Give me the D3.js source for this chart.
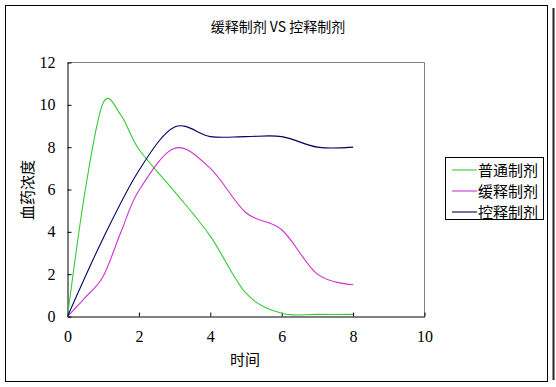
<!DOCTYPE html>
<html>
<head>
<meta charset="utf-8">
<script src="https://cdn.jsdelivr.net/npm/d3@7"></script>
<style>
  body { margin: 0; background: #fff; }
  text { font-family: "Noto Sans CJK SC", "DejaVu Sans", sans-serif; fill: #000; }
</style>
</head>
<body>
<div id="chart"></div>
<script>
// Time points and concentrations for each formulation
const normalT = [0, 0.5, 1, 1.5, 2, 3, 4, 5, 6, 7, 8];
const normalV = [0, 6.0, 10.1, 9.5, 7.9, 5.9, 3.8, 1.1, 0.15, 0.1, 0.1];

const sustainedT = [0, 0.5, 1, 1.5, 2, 3, 4, 5, 6, 7, 8];
const sustainedV = [0, 0.9, 1.9, 4.0, 5.95, 7.95, 7.0, 4.9, 4.1, 2.0, 1.5];

const controlledT = [0, 1, 2, 3, 4, 5, 6, 7, 8];
const controlledV = [0, 3.7, 6.9, 8.95, 8.5, 8.5, 8.5, 8.0, 8.0];

const seriesNames = ['普通制剂', '缓释制剂', '控释制剂'];
const seriesColors = ['#33cc33', '#cc33cc', '#000066'];
const xTicks = [0, 2, 4, 6, 8, 10];
const yTicks = [0, 2, 4, 6, 8, 10, 12];

const W = 556, H = 387;
const plot = {left: 67.5, right: 424.5, top: 62.5, bottom: 316.5};

const svg = d3.select('#chart').append('svg')
  .attr('width', W).attr('height', H);

// outer chart frame
svg.append('rect')
  .attr('x', 5.5).attr('y', 5.5)
  .attr('width', 542).attr('height', 376)
  .attr('fill', 'none').attr('stroke', '#000').attr('stroke-width', 1);
svg.append('line')
  .attr('x1', 553.5).attr('x2', 553.5).attr('y1', 8).attr('y2', 380)
  .attr('stroke', '#222').attr('stroke-width', 2);

const x = d3.scaleLinear().domain([0, 10]).range([plot.left, plot.right]);
const y = d3.scaleLinear().domain([0, 12]).range([plot.bottom, plot.top]);

// plot area border (top/right in grey)
svg.append('path')
  .attr('d', `M${plot.left},${plot.top}H${plot.right}V${plot.bottom}`)
  .attr('fill', 'none').attr('stroke', '#808080');

// axes with inward ticks
const xAxis = svg.append('g')
  .attr('transform', `translate(0,${plot.bottom})`)
  .call(d3.axisBottom(x).tickValues(xTicks).tickSizeInner(-4).tickSizeOuter(0).tickPadding(14));
const yAxis = svg.append('g')
  .attr('transform', `translate(${plot.left},0)`)
  .call(d3.axisLeft(y).tickValues(yTicks).tickSizeInner(-4).tickSizeOuter(0).tickPadding(12));

[xAxis, yAxis].forEach(a => {
  a.attr('font-family', null);
  a.select('.domain').attr('stroke', '#000');
  a.selectAll('.tick line').attr('stroke', '#000');
  a.selectAll('.tick text')
    .style('font-family', '"Liberation Serif", serif')
    .style('font-size', '16px')
    .attr('fill', '#000');
});

// lines
const line = d3.line()
  .x(d => x(d[0]))
  .y(d => y(d[1]))
  .curve(d3.curveCardinal.tension(0));

const allSeries = [
  d3.zip(normalT, normalV),
  d3.zip(sustainedT, sustainedV),
  d3.zip(controlledT, controlledV)
];

svg.selectAll('.series')
  .data(allSeries)
  .enter()
  .append('path')
  .attr('class', 'series')
  .attr('d', line)
  .attr('fill', 'none')
  .attr('stroke', (d, i) => seriesColors[i])
  .attr('stroke-width', 1.1);

// title and axis titles
svg.append('text')
  .attr('x', 278).attr('y', 32)
  .attr('text-anchor', 'middle')
  .style('font-size', '14px')
  .text('缓释制剂 VS 控释制剂');

svg.append('text')
  .attr('x', 245).attr('y', 365)
  .attr('text-anchor', 'middle')
  .style('font-size', '15px')
  .text('时间');

svg.append('text')
  .attr('transform', 'translate(33,190) rotate(-90)')
  .attr('text-anchor', 'middle')
  .style('font-size', '15px')
  .text('血药浓度');

// legend
const legend = svg.append('g');
legend.append('rect')
  .attr('x', 445.5).attr('y', 157.5)
  .attr('width', 98).attr('height', 62)
  .attr('fill', '#fff').attr('stroke', '#000');

const rows = legend.selectAll('.row')
  .data(seriesNames)
  .enter()
  .append('g')
  .attr('transform', (d, i) => `translate(0,${170 + i * 21})`);

rows.append('line')
  .attr('x1', 452).attr('x2', 477)
  .attr('stroke', (d, i) => seriesColors[i])
  .attr('stroke-width', 1.1);

rows.append('text')
  .attr('x', 478).attr('y', 5.5)
  .style('font-size', '15px')
  .text(d => d);
</script>
</body>
</html>
